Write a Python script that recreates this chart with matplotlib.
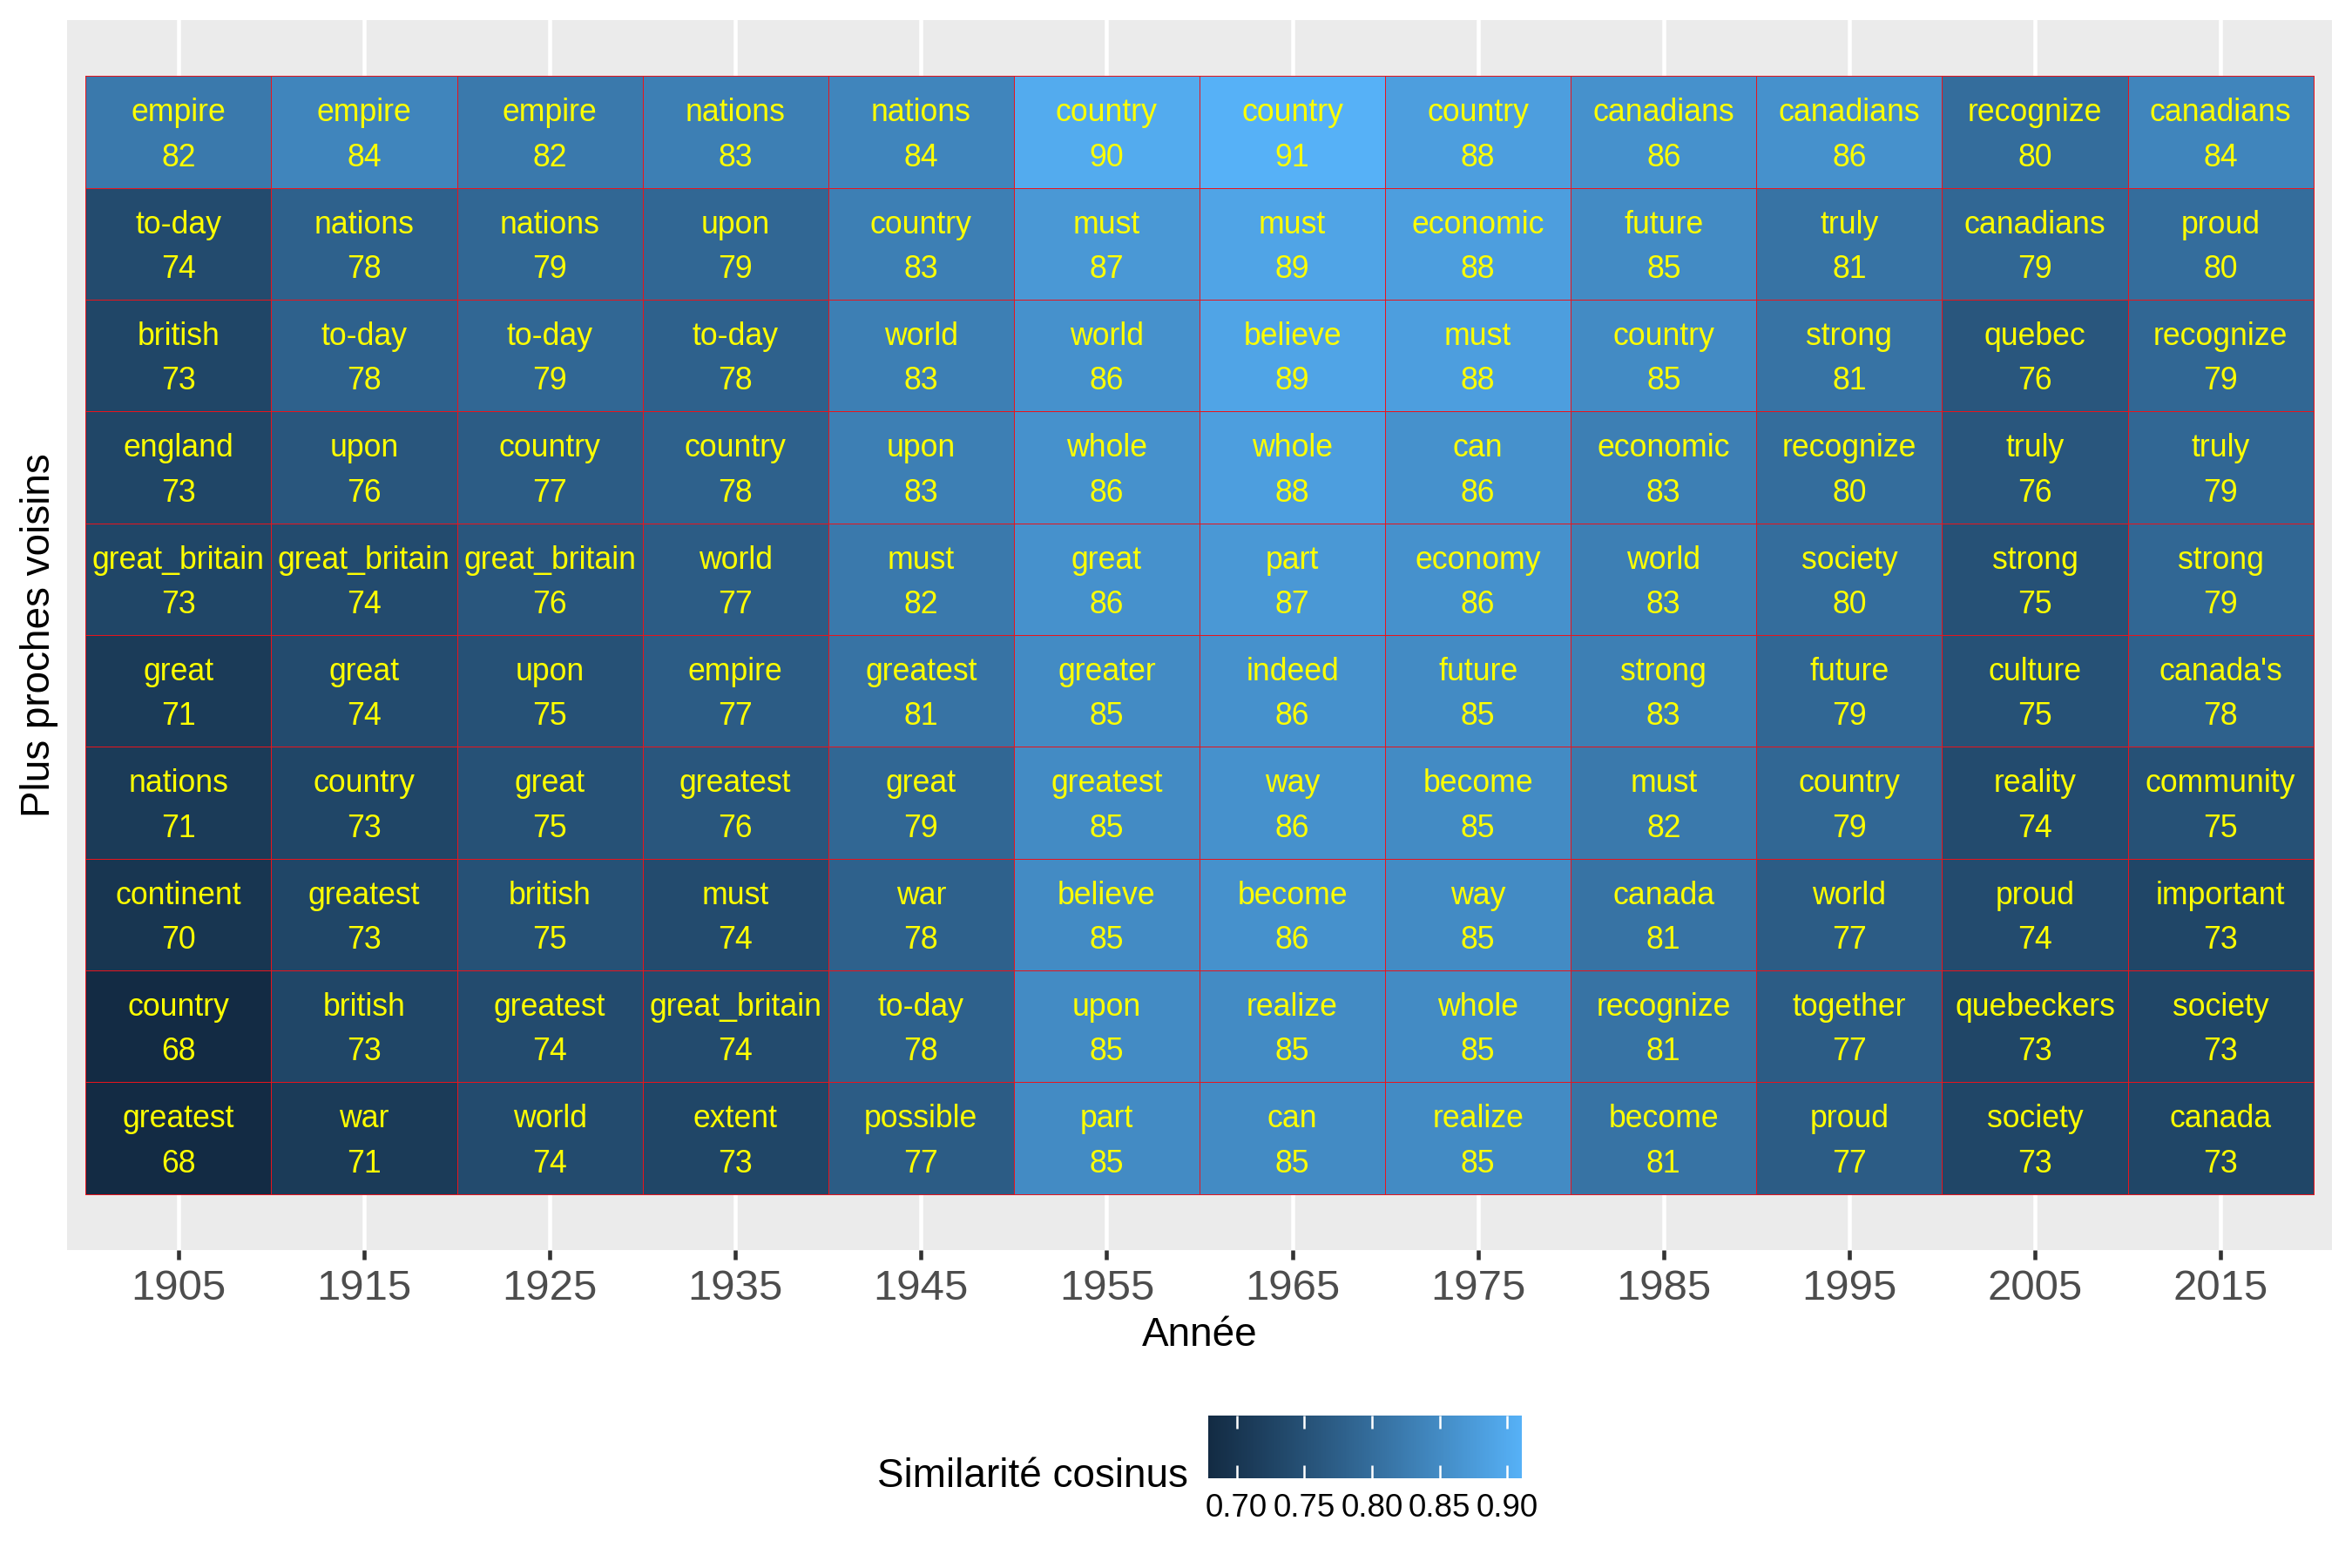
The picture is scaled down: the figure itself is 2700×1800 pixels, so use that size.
import numpy as np
import matplotlib
matplotlib.use("Agg")
import matplotlib.pyplot as plt
from matplotlib.colors import LinearSegmentedColormap, Normalize
from matplotlib.cm import ScalarMappable

plt.rcParams['font.family'] = ['Liberation Sans', 'DejaVu Sans']

# decades (x) and the 10 nearest neighbours per decade, ranked top to bottom
years = ["1905", "1915", "1925", "1935", "1945", "1955",
         "1965", "1975", "1985", "1995", "2005", "2015"]

words_1905 = ["empire", "to-day", "british", "england", "great_britain", "great", "nations", "continent", "country", "greatest"]
words_1915 = ["empire", "nations", "to-day", "upon", "great_britain", "great", "country", "greatest", "british", "war"]
words_1925 = ["empire", "nations", "to-day", "country", "great_britain", "upon", "great", "british", "greatest", "world"]
words_1935 = ["nations", "upon", "to-day", "country", "world", "empire", "greatest", "must", "great_britain", "extent"]
words_1945 = ["nations", "country", "world", "upon", "must", "greatest", "great", "war", "to-day", "possible"]
words_1955 = ["country", "must", "world", "whole", "great", "greater", "greatest", "believe", "upon", "part"]
words_1965 = ["country", "must", "believe", "whole", "part", "indeed", "way", "become", "realize", "can"]
words_1975 = ["country", "economic", "must", "can", "economy", "future", "become", "way", "whole", "realize"]
words_1985 = ["canadians", "future", "country", "economic", "world", "strong", "must", "canada", "recognize", "become"]
words_1995 = ["canadians", "truly", "strong", "recognize", "society", "future", "country", "world", "together", "proud"]
words_2005 = ["recognize", "canadians", "quebec", "truly", "strong", "culture", "reality", "proud", "quebeckers", "society"]
words_2015 = ["canadians", "proud", "recognize", "truly", "strong", "canada's", "community", "important", "society", "canada"]

# cosine similarity x 100, as printed in the cells
sim_1905 = [82, 74, 73, 73, 73, 71, 71, 70, 68, 68]
sim_1915 = [84, 78, 78, 76, 74, 74, 73, 73, 73, 71]
sim_1925 = [82, 79, 79, 77, 76, 75, 75, 75, 74, 74]
sim_1935 = [83, 79, 78, 78, 77, 77, 76, 74, 74, 73]
sim_1945 = [84, 83, 83, 83, 82, 81, 79, 78, 78, 77]
sim_1955 = [90, 87, 86, 86, 86, 85, 85, 85, 85, 85]
sim_1965 = [91, 89, 89, 88, 87, 86, 86, 86, 85, 85]
sim_1975 = [88, 88, 88, 86, 86, 85, 85, 85, 85, 85]
sim_1985 = [86, 85, 85, 83, 83, 83, 82, 81, 81, 81]
sim_1995 = [86, 81, 81, 80, 80, 79, 79, 77, 77, 77]
sim_2005 = [80, 79, 76, 76, 75, 75, 74, 74, 73, 73]
sim_2015 = [84, 80, 79, 79, 79, 78, 75, 73, 73, 73]

words = [words_1905, words_1915, words_1925, words_1935, words_1945, words_1955,
         words_1965, words_1975, words_1985, words_1995, words_2005, words_2015]
sims = np.array([sim_1905, sim_1915, sim_1925, sim_1935, sim_1945, sim_1955,
                 sim_1965, sim_1975, sim_1985, sim_1995, sim_2005, sim_2015]) / 100.0

VMIN, VMAX = 0.679, 0.9107


# ggplot-like gradient (#132B43 -> #56B1F7), interpolated in CIE Lab
M = np.array([[0.4124, 0.3576, 0.1805],
              [0.2126, 0.7152, 0.0722],
              [0.0193, 0.1192, 0.9505]])
WHITE = np.array([0.95047, 1.0, 1.08883])


def to_lab(hexcol):
    c = np.array([int(hexcol[i:i + 2], 16) / 255 for i in (1, 3, 5)])
    lin = np.where(c <= 0.04045, c / 12.92, ((c + 0.055) / 1.055) ** 2.4)
    xyz = M @ lin / WHITE
    f = np.where(xyz > (6 / 29) ** 3, np.cbrt(xyz), xyz / (3 * (6 / 29) ** 2) + 4 / 29)
    return np.array([116 * f[1] - 16, 500 * (f[0] - f[1]), 200 * (f[1] - f[2])])


def from_lab(lab):
    fy = (lab[0] + 16) / 116
    f = np.array([fy + lab[1] / 500, fy, fy - lab[2] / 200])
    xyz = np.where(f > 6 / 29, f ** 3, 3 * (6 / 29) ** 2 * (f - 4 / 29)) * WHITE
    lin = np.linalg.solve(M, xyz)
    lin = np.clip(lin, 0, 1)
    c = np.where(lin <= 0.0031308, 12.92 * lin, 1.055 * lin ** (1 / 2.4) - 0.055)
    return np.clip(c, 0, 1)


lo, hi = to_lab("#132B43"), to_lab("#56B1F7")
ramp = [from_lab(lo + t * (hi - lo)) for t in np.linspace(0, 1, 64)]
cmap = LinearSegmentedColormap.from_list("gg_blue", ramp)
norm = Normalize(VMIN, VMAX)

W, H = 2700, 1800
fig = plt.figure(figsize=(9, 6), dpi=300)

# main panel
ax = fig.add_axes([77 / W, 1 - 1435 / H, 2600 / W, 1412 / H])
ax.set_facecolor("#EBEBEB")
for s in ax.spines.values():
    s.set_visible(False)

ncol = len(years)
nrow = sims.shape[1]
xe = np.arange(ncol + 1) - 0.5
ye = np.arange(nrow + 1) + 0.5
ax.pcolormesh(xe, ye, sims.T, cmap=cmap, norm=norm,
              edgecolors="#E8141C", linewidth=0.22, zorder=2)

for i in range(ncol):
    for r in range(nrow):
        rank = r + 1
        ax.text(i, rank - 0.095, words[i][r], ha="center", va="baseline",
                color="yellow", fontsize=8.55, zorder=3)
        ax.text(i, rank + 0.305, f"{round(sims[i, r] * 100)}", ha="center",
                va="baseline", color="yellow", fontsize=8.55, zorder=3)

ax.set_xlim(-0.6, ncol - 0.4)
ax.set_ylim(nrow + 1, 0)
ax.set_xticks(range(ncol), labels=years)
ax.set_yticks([])
ax.grid(axis="x", color="white", linewidth=1.1)
ax.set_axisbelow(True)
ax.tick_params(axis="x", length=2.7, width=1.1, color="#333333",
               labelcolor="#4D4D4D", labelsize=11.8, pad=2.5)
ax.set_xlabel("Année", fontsize=11, labelpad=2.2)
ax.set_ylabel("Plus proches voisins", fontsize=11, labelpad=2.5)

# colour bar legend
cax = fig.add_axes([1387 / W, 1 - 1697 / H, 360 / W, 72 / H])
cb = fig.colorbar(ScalarMappable(norm=norm, cmap=cmap), cax=cax,
                  orientation="horizontal", ticks=[0.70, 0.75, 0.80, 0.85, 0.90])
cb.outline.set_visible(False)
cb.ax.set_xticklabels(["0.70", "0.75", "0.80", "0.85", "0.90"])
cax.tick_params(direction="in", length=3.5, width=0.6, color="white",
                top=True, bottom=True, labelsize=8.8, labelcolor="black", pad=4)
fig.text(1364 / W, 1 - 1707 / H, "Similarité cosinus", ha="right",
         va="baseline", fontsize=11)

fig.savefig("out.png", dpi=300)
